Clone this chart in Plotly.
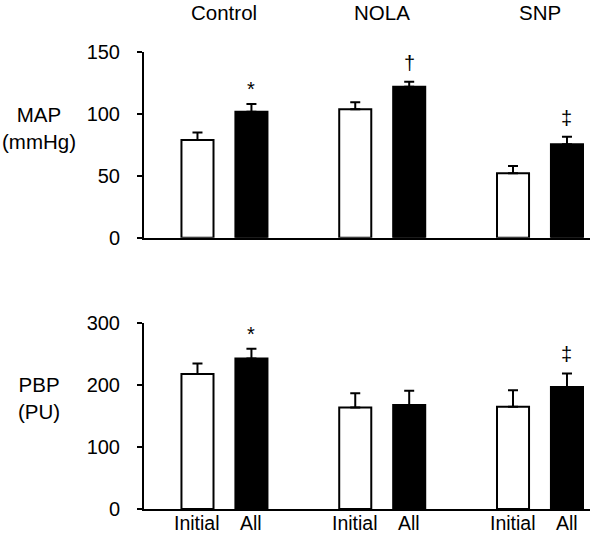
import plotly.graph_objects as go
from plotly.subplots import make_subplots

groups = ["Control", "NOLA", "SNP"]
conditions = ["Initial", "All"]

map_initial = [78.8, 103.5, 51.9]
map_initial_err = [6.0, 5.7, 6.0]
map_all = [101.6, 121.8, 75.3]
map_all_err = [6.2, 4.0, 6.2]

pbp_initial = [218, 164, 165]
pbp_initial_err = [17, 23, 27]
pbp_all = [243, 168, 197]
pbp_all_err = [16, 23, 22]

map_marks = ["", "", "", "*", "†", "‡"]
pbp_marks = ["", "", "", "*", "", "‡"]

FONT = "Liberation Sans, Arial, sans-serif"

fig = make_subplots(rows=2, cols=1, shared_xaxes=False, vertical_spacing=0.0)

def add_pair(row, init, init_err, al, al_err):
    fig.add_trace(go.Bar(
        x=groups, y=init, name="Initial",
        marker=dict(color="white", line=dict(color="black", width=2)),
        error_y=dict(type="data", symmetric=False, array=init_err,
                     arrayminus=[0] * len(init), color="black", thickness=2, width=5),
        showlegend=False, hoverinfo="skip"), row=row, col=1)
    fig.add_trace(go.Bar(
        x=groups, y=al, name="All",
        marker=dict(color="black", line=dict(color="black", width=2)),
        error_y=dict(type="data", symmetric=False, array=al_err,
                     arrayminus=[0] * len(al), color="black", thickness=2, width=5),
        showlegend=False, hoverinfo="skip"), row=row, col=1)

add_pair(1, map_initial, map_initial_err, map_all, map_all_err)
add_pair(2, pbp_initial, pbp_initial_err, pbp_all, pbp_all_err)

xrange = [-0.51, 2.317]
axis_common = dict(showline=True, linecolor="black", linewidth=2, showgrid=False,
                   zeroline=False, automargin=False)
fig.update_xaxes(range=xrange, showticklabels=False, ticks="", **axis_common)
fig.update_yaxes(ticks="outside", ticklen=5, tickwidth=2, tickcolor="black",
                 tickfont=dict(family=FONT, size=20, color="black"),
                 ticklabelstandoff=13, **axis_common)
fig.update_layout(
    xaxis=dict(domain=[0, 1]),
    xaxis2=dict(domain=[0, 1]),
    yaxis=dict(domain=[0.5924, 0.9985], range=[0, 150], tickvals=[0, 50, 100, 150]),
    yaxis2=dict(domain=[0, 0.4055], range=[0, 300], tickvals=[0, 100, 200, 300]),
)

TXT = 20.5
annotations = []
# group titles
for g in groups:
    annotations.append(dict(x=g, xref="x", y=1.083, yref="paper", text=g,
                            showarrow=False, yanchor="middle",
                            font=dict(family=FONT, size=TXT, color="black")))
# y titles
for txt, yy in [("MAP<br>(mmHg)", 0.8308), ("PBP<br>(PU)", 0.2424)]:
    annotations.append(dict(x=-0.2354, xref="paper", y=yy, yref="paper", text=txt,
                            showarrow=False, xanchor="center", yanchor="middle",
                            align="center",
                            font=dict(family=FONT, size=TXT, color="black")))
# condition labels under bottom panel
shifts = {"Initial": -27, "All": 27}
for g in groups:
    for c in conditions:
        annotations.append(dict(x=g, xref="x2", xshift=shifts[c], y=-0.0306, yref="paper",
                                text=c, showarrow=False, yanchor="middle",
                                font=dict(family=FONT, size=19.5, color="black")))
# significance marks
def add_marks(marks, tops_init, tops_all, xref, yref):
    tops = tops_init + tops_all
    for i, m in enumerate(marks):
        if not m:
            continue
        c = conditions[i // 3]
        g = groups[i % 3]
        annotations.append(dict(x=g, xref=xref, xshift=shifts[c], y=tops[i], yref=yref,
                                yanchor="bottom", yshift=2 if m == "*" else 6,
                                text=m, showarrow=False,
                                font=dict(family=FONT, size=20, color="black")))

add_marks(map_marks, [v + e for v, e in zip(map_initial, map_initial_err)],
          [v + e for v, e in zip(map_all, map_all_err)], "x", "y")
add_marks(pbp_marks, [v + e for v, e in zip(pbp_initial, pbp_initial_err)],
          [v + e for v, e in zip(pbp_all, pbp_all_err)], "x2", "y2")

fig.update_layout(
    annotations=annotations,
    width=595, height=538,
    margin=dict(l=144, r=5, t=51, b=29),
    paper_bgcolor="white", plot_bgcolor="white",
    barmode="group", bargap=0.316, bargroupgap=0.406,
    font=dict(family=FONT, color="black"),
    hovermode=False,
)

# remove the browser's default 8px body margin so the figure fills the window
fig.write_html("out.html",
               config={"displayModeBar": False, "staticPlot": True},
               post_script="document.body.style.margin='0';document.body.style.overflow='hidden';")
